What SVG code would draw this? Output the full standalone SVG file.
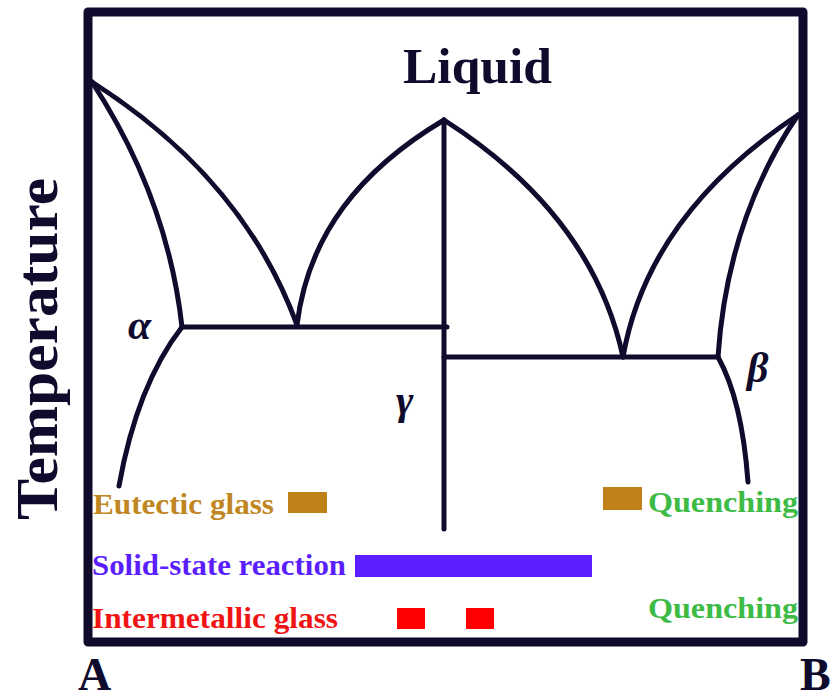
<svg xmlns="http://www.w3.org/2000/svg" width="833" height="700" viewBox="0 0 833 700">
<style>
.ln{fill:none;stroke:#0e0b2c;stroke-width:5;stroke-linecap:round;stroke-linejoin:round}
.t{font-family:"Liberation Serif","Times New Roman",serif;font-weight:bold}
.k{fill:#0e0b2c}
.gr{fill:#3dbb45}
</style>
<rect width="833" height="700" fill="#ffffff"/>
<g id="frame">
<rect x="88" y="12" width="715" height="630" fill="none" stroke="#0e0b2c" stroke-width="9" stroke-linejoin="round"/>
</g>
<g id="connectors">
<path class="ln" d="M92,82 C175,135 255,210 297,325"/>
<path class="ln" d="M92,82 C130,140 170,220 182,327"/>
<path class="ln" d="M182,327 Q137,385 119,486"/>
<path class="ln" d="M182,327 L447,327"/>
<path class="ln" d="M297,325 C308,235 360,170 444,120"/>
<path class="ln" d="M444,120 L444,529"/>
<path class="ln" d="M444,120 C530,175 600,250 623,357"/>
<path class="ln" d="M623,357 C640,260 700,180 798,115"/>
<path class="ln" d="M798,115 C760,170 725,250 718,357"/>
<path class="ln" d="M444,357 L718,357"/>
<path class="ln" d="M718,357 Q742,400 748,482"/>
</g>
<g id="liquid"><text class="t k" x="403" y="83" font-size="50" textLength="149" lengthAdjust="spacingAndGlyphs">Liquid</text></g>
<g id="temperature"><text class="t k" font-size="60" transform="translate(57,349) rotate(-90)" text-anchor="middle" textLength="342" lengthAdjust="spacingAndGlyphs">Temperature</text></g>
<g id="alpha"><text class="t k" x="128" y="339" font-size="42" font-style="italic">α</text></g>
<g id="beta"><text class="t k" x="747" y="382" font-size="42" font-style="italic">β</text></g>
<g id="gamma"><text class="t k" x="396" y="414" font-size="42" font-style="italic">γ</text></g>
<g id="A"><text class="t k" x="78" y="690" font-size="46">A</text></g>
<g id="B"><text class="t k" x="800" y="690" font-size="46">B</text></g>
<g id="eutectic">
<text class="t" x="93" y="514" font-size="30" fill="#bf8622" textLength="181" lengthAdjust="spacingAndGlyphs">Eutectic glass</text>
<rect x="288" y="492" width="39" height="21" fill="#c0801a"/>
<rect x="603" y="487" width="39" height="23" fill="#c0801a"/>
</g>
<g id="solid">
<text class="t" x="92" y="575" font-size="30" fill="#5a1eff" textLength="254" lengthAdjust="spacingAndGlyphs">Solid-state reaction</text>
<rect x="355" y="555" width="237" height="22" fill="#5a1eff"/>
</g>
<g id="intermetallic">
<text class="t" x="92" y="628" font-size="30" fill="#f01515" textLength="246" lengthAdjust="spacingAndGlyphs">Intermetallic glass</text>
<rect x="397" y="608" width="28" height="21" fill="#ff0000"/>
<rect x="466" y="608" width="28" height="21" fill="#ff0000"/>
</g>
<g id="quench1"><text class="t gr" x="648" y="512" font-size="30" textLength="150" lengthAdjust="spacingAndGlyphs">Quenching</text></g>
<g id="quench2"><text class="t gr" x="648" y="618" font-size="30" textLength="150" lengthAdjust="spacingAndGlyphs">Quenching</text></g>
</svg>
